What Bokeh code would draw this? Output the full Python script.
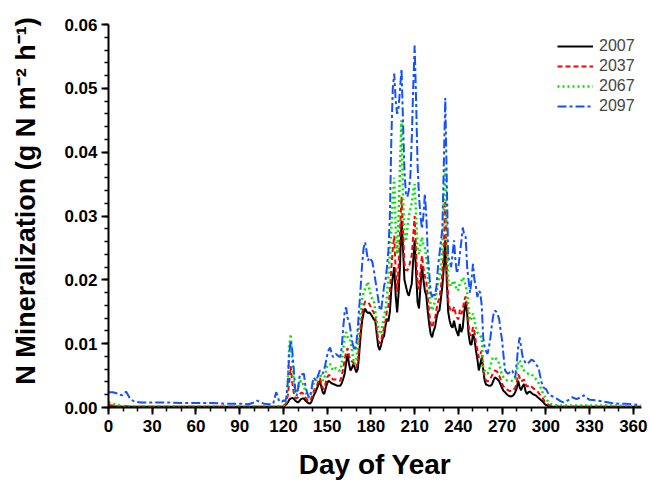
from bokeh.plotting import figure
from bokeh.models import Range1d, SingleIntervalTicker, NumeralTickFormatter, Legend, LegendItem
from bokeh.embed import file_html
from bokeh.resources import INLINE

# Day-of-year sampling: sparse in the dormant season, daily through the growing season
EARLY_DAYS = [0, 3, 6, 9, 11, 12, 13, 15, 18, 22, 30, 40, 50, 60, 70, 80, 90, 96,
              100, 102, 104, 107, 110, 113, 115, 116, 117, 119]
MID_DAYS = list(range(120, 303))
LATE_DAYS = [304, 306, 308, 310, 312, 315, 318, 321, 324, 326, 328, 330, 335, 340,
             345, 350, 355, 360, 365]

YEARS = ["2007", "2037", "2067", "2097"]

# N mineralization (g N m-2 h-1)
N2007_EARLY = [.0002, .0002, .0001, .0001, .0001, .0001, .0001, .0001, .0001, .0001,
               .0001, .0001, .0001, .0001, .0001, .0001, .0001, .0001, .0001, .0001,
               .0001, .0001, .0001, .0001, .0001, .0001, .0001, .0001]
N2007_MID = [
    .0002, .0003, .0005, .0008, .0012, .0014, .0015, .0014, .0011, .0009,
    .0008, .0010, .0013, .0014, .0014, .0011, .0009, .0007, .0006, .0008,
    .0014, .0020, .0024, .0030, .0036, .0042, .0032, .0023, .0021, .0030,
    .0038, .0042, .0040, .0038, .0037, .0036, .0035, .0034, .0034, .0034,
    .0038, .0045, .0053, .0070, .0084, .0068, .0058, .0062, .0068, .0062,
    .0055, .0060, .0085, .0115, .0136, .0148, .0155, .0150, .0148, .0149,
    .0146, .0142, .0138, .0136, .0115, .0096, .0090, .0098, .0108, .0112,
    .0128, .0139, .0135, .0150, .0185, .0205, .0220, .0175, .0149, .0180,
    .0225, .0293, .0250, .0200, .0190, .0180, .0175, .0185, .0194, .0230,
    .0262, .0210, .0165, .0155, .0190, .0222, .0200, .0183, .0175, .0150,
    .0130, .0115, .0110, .0120, .0126, .0140, .0150, .0152, .0170, .0190,
    .0220, .0262, .0200, .0150, .0136, .0128, .0125, .0136, .0125, .0118,
    .0112, .0131, .0118, .0125, .0150, .0165, .0147, .0115, .0100, .0098,
    .0115, .0108, .0090, .0076, .0058, .0068, .0078, .0060, .0042, .0036,
    .0035, .0034, .0034, .0036, .0042, .0047, .0046, .0044, .0041, .0036,
    .0030, .0026, .0024, .0021, .0019, .0018, .0017, .0018, .0020, .0024,
    .0030, .0042, .0032, .0027, .0033, .0037, .0026, .0021, .0024, .0025,
    .0023, .0021, .0020, .0019, .0017, .0015, .0013, .0011, .0009, .0006,
    .0004, .0003, .0002]
N2007_LATE = [.0001, .0001, .0001, .0001, .0001, .0001, .0001, .0001, .0001, .0001,
              .0001, .0001, .0001, .0001, .0001, .0001, .0001, .0001, .0001]

N2037_EARLY = [.0004, .0003, .0002, .0002, .0002, .0002, .0002, .0001, .0001, .0001,
               .0001, .0001, .0001, .0001, .0001, .0001, .0001, .0001, .0001, .0001,
               .0001, .0001, .0001, .0001, .0001, .0001, .0001, .0001]
N2037_MID = [
    .0002, .0004, .0007, .0019, .0041, .0065, .0040, .0024, .0016, .0014,
    .0016, .0020, .0023, .0023, .0020, .0016, .0013, .0010, .0010, .0013,
    .0020, .0027, .0030, .0035, .0041, .0046, .0038, .0030, .0029, .0039,
    .0047, .0051, .0050, .0046, .0044, .0044, .0044, .0043, .0042, .0042,
    .0049, .0061, .0075, .0087, .0093, .0081, .0074, .0072, .0070, .0064,
    .0062, .0074, .0101, .0127, .0148, .0159, .0166, .0165, .0165, .0162,
    .0156, .0152, .0149, .0141, .0122, .0107, .0100, .0104, .0116, .0124,
    .0136, .0152, .0159, .0182, .0218, .0249, .0269, .0212, .0181, .0222,
    .0279, .0330, .0278, .0225, .0215, .0215, .0219, .0229, .0238, .0269,
    .0300, .0242, .0195, .0185, .0213, .0238, .0219, .0206, .0196, .0173,
    .0148, .0131, .0125, .0134, .0140, .0154, .0165, .0171, .0188, .0211,
    .0255, .0324, .0225, .0168, .0157, .0150, .0150, .0158, .0148, .0141,
    .0138, .0153, .0146, .0153, .0168, .0174, .0159, .0129, .0113, .0113,
    .0126, .0119, .0102, .0091, .0078, .0083, .0089, .0061, .0048, .0042,
    .0041, .0042, .0045, .0050, .0055, .0058, .0057, .0055, .0050, .0044,
    .0037, .0033, .0031, .0029, .0027, .0026, .0026, .0026, .0028, .0031,
    .0039, .0052, .0047, .0041, .0042, .0044, .0037, .0033, .0034, .0035,
    .0033, .0031, .0029, .0028, .0026, .0023, .0020, .0017, .0014, .0010,
    .0008, .0006, .0004]
N2037_LATE = [.0003, .0002, .0002, .0001, .0001, .0001, .0001, .0001, .0001, .0001,
              .0001, .0001, .0001, .0001, .0001, .0001, .0001, .0001, .0001]

N2067_EARLY = [.0008, .0006, .0004, .0003, .0002, .0002, .0002, .0002, .0001, .0001,
               .0001, .0001, .0001, .0001, .0001, .0001, .0001, .0001, .0001, .0001,
               .0001, .0001, .0001, .0001, .0001, .0002, .0002, .0002]
N2067_MID = [
    .0003, .0005, .0010, .0040, .0095, .0115, .0075, .0042, .0025, .0022,
    .0030, .0038, .0042, .0040, .0032, .0026, .0020, .0016, .0016, .0022,
    .0032, .0040, .0040, .0045, .0050, .0053, .0048, .0042, .0045, .0055,
    .0065, .0068, .0068, .0062, .0058, .0060, .0062, .0060, .0058, .0058,
    .0070, .0090, .0115, .0118, .0110, .0105, .0105, .0090, .0075, .0068,
    .0075, .0100, .0131, .0150, .0170, .0180, .0186, .0192, .0197, .0185,
    .0175, .0170, .0168, .0150, .0135, .0126, .0118, .0115, .0130, .0145,
    .0152, .0175, .0204, .0240, .0280, .0330, .0360, .0280, .0240, .0300,
    .0380, .0450, .0330, .0270, .0260, .0280, .0300, .0310, .0320, .0340,
    .0350, .0300, .0250, .0240, .0255, .0267, .0255, .0250, .0235, .0215,
    .0180, .0160, .0152, .0160, .0165, .0180, .0194, .0205, .0220, .0250,
    .0320, .0376, .0270, .0200, .0195, .0190, .0195, .0199, .0190, .0183,
    .0185, .0195, .0198, .0204, .0200, .0190, .0180, .0155, .0136, .0140,
    .0147, .0138, .0125, .0118, .0115, .0112, .0110, .0063, .0058, .0054,
    .0053, .0058, .0065, .0075, .0079, .0078, .0076, .0074, .0068, .0058,
    .0050, .0047, .0045, .0043, .0042, .0042, .0042, .0042, .0042, .0045,
    .0055, .0071, .0074, .0068, .0060, .0058, .0056, .0054, .0053, .0053,
    .0052, .0050, .0047, .0045, .0042, .0038, .0034, .0028, .0022, .0018,
    .0014, .0011, .0008]
N2067_LATE = [.0005, .0004, .0003, .0003, .0003, .0003, .0003, .0003, .0003, .0003,
              .0003, .0003, .0003, .0003, .0003, .0003, .0002, .0002, .0002]

N2097_EARLY = [.0024, .0024, .0022, .0019, .0022, .0025, .0021, .0013, .0009, .0008,
               .0008, .0008, .0007, .0007, .0007, .0006, .0006, .0005, .0008, .0011,
               .0008, .0006, .0005, .0006, .0024, .0018, .0010, .0009]
N2097_MID = [
    .0011, .0010, .0015, .0040, .0085, .0105, .0090, .0063, .0030, .0018,
    .0030, .0048, .0053, .0052, .0053, .0035, .0025, .0018, .0016, .0025,
    .0040, .0047, .0042, .0045, .0052, .0058, .0055, .0053, .0060, .0070,
    .0082, .0090, .0094, .0085, .0079, .0082, .0084, .0082, .0080, .0079,
    .0095, .0125, .0150, .0157, .0140, .0136, .0121, .0105, .0095, .0089,
    .0100, .0125, .0157, .0190, .0225, .0250, .0259, .0245, .0230, .0235,
    .0232, .0228, .0215, .0200, .0185, .0170, .0155, .0152, .0170, .0190,
    .0199, .0220, .0246, .0300, .0420, .0500, .0523, .0480, .0460, .0470,
    .0500, .0530, .0450, .0370, .0335, .0330, .0340, .0360, .0420, .0500,
    .0567, .0480, .0380, .0330, .0300, .0280, .0300, .0335, .0300, .0240,
    .0210, .0180, .0173, .0180, .0175, .0190, .0220, .0240, .0260, .0280,
    .0380, .0485, .0360, .0235, .0230, .0220, .0240, .0262, .0230, .0210,
    .0220, .0240, .0260, .0282, .0270, .0267, .0220, .0199, .0180, .0200,
    .0225, .0200, .0190, .0173, .0183, .0180, .0160, .0110, .0094, .0088,
    .0084, .0095, .0110, .0130, .0145, .0152, .0150, .0145, .0138, .0120,
    .0105, .0080, .0058, .0055, .0053, .0055, .0058, .0058, .0050, .0047,
    .0070, .0094, .0110, .0095, .0080, .0074, .0070, .0068, .0070, .0072,
    .0075, .0074, .0072, .0068, .0065, .0063, .0050, .0040, .0032, .0030,
    .0029, .0025, .0020]
N2097_LATE = [.0018, .0016, .0013, .0010, .0008, .0011, .0016, .0013, .0016, .0019,
              .0015, .0012, .0011, .0009, .0007, .0006, .0006, .0005, .0004]

SERIES = {
    "2007": (N2007_EARLY, N2007_MID, N2007_LATE),
    "2037": (N2037_EARLY, N2037_MID, N2037_LATE),
    "2067": (N2067_EARLY, N2067_MID, N2067_LATE),
    "2097": (N2097_EARLY, N2097_MID, N2097_LATE),
}

STYLES = {
    "2007": dict(color="#000000", line_width=2.0, line_dash="solid"),
    "2037": dict(color="#ff0000", line_width=2.0, line_dash="5 3"),
    "2067": dict(color="#00e600", line_width=2.5, line_dash="2 3"),
    "2097": dict(color="#1450ff", line_width=2.0, line_dash="9 3 3 3"),
}

days = EARLY_DAYS + MID_DAYS + LATE_DAYS

p = figure(width=650, height=482, output_backend="svg", toolbar_location=None,
           x_range=Range1d(0, 365.6), y_range=Range1d(0, 0.06),
           min_border_left=108, min_border_right=9, min_border_top=24,
           min_border_bottom=75)
p.outline_line_color = None
p.xgrid.visible = False
p.ygrid.visible = False
p.background_fill_color = "white"
p.border_fill_color = "white"

items = []
for year in YEARS:
    early, mid, late = SERIES[year]
    assert len(early) == len(EARLY_DAYS) and len(mid) == len(MID_DAYS) and len(late) == len(LATE_DAYS), year
    r = p.line(days, early + mid + late, **STYLES[year])
    items.append(LegendItem(label=year, renderers=[r]))

legend = Legend(items=items, location=(449, 291))
legend.border_line_alpha = 0
legend.background_fill_alpha = 0
legend.glyph_width = 36
legend.glyph_height = 20
legend.label_height = 20
legend.spacing = 0
legend.padding = 0
legend.margin = 0
legend.label_standoff = 6
legend.label_text_font = "Liberation Sans"
legend.label_text_font_size = "16px"
p.add_layout(legend)

p.xaxis.ticker = SingleIntervalTicker(interval=30, num_minor_ticks=3)
p.yaxis.ticker = SingleIntervalTicker(interval=0.01, num_minor_ticks=5)
p.yaxis.formatter = NumeralTickFormatter(format="0.00")

p.xaxis.axis_label = "Day of Year"
# leading no-break spaces nudge the rotated title toward the top of the frame
p.yaxis.axis_label = "\u00a0\u00a0\u00a0\u00a0N Mineralization (g N m\u207b\u00b2 h\u207b\u00b9)"

for ax in (p.xaxis, p.yaxis):
    ax.axis_line_width = 2
    ax.axis_line_color = "black"
    ax.major_tick_line_width = 2
    ax.major_tick_line_color = "black"
    ax.minor_tick_line_width = 1.5
    ax.minor_tick_line_color = "black"
    ax.major_tick_in = 0
    ax.major_tick_out = 7
    ax.minor_tick_in = 0
    ax.minor_tick_out = 4
    ax.major_label_text_font = "Liberation Sans"
    ax.major_label_text_font_style = "bold"
    ax.major_label_text_font_size = "17px"
    ax.major_label_text_color = "black"
    ax.axis_label_text_font = "Liberation Sans"
    ax.axis_label_text_font_style = "bold"
    ax.axis_label_text_color = "black"

p.xaxis.major_label_standoff = 5
p.yaxis.major_label_standoff = 4
p.xaxis.axis_label_text_font_size = "28px"
p.yaxis.axis_label_text_font_size = "27px"
p.xaxis.axis_label_standoff = 14
p.yaxis.axis_label_standoff = 20

open("out.html", "w").write(file_html(p, INLINE))
